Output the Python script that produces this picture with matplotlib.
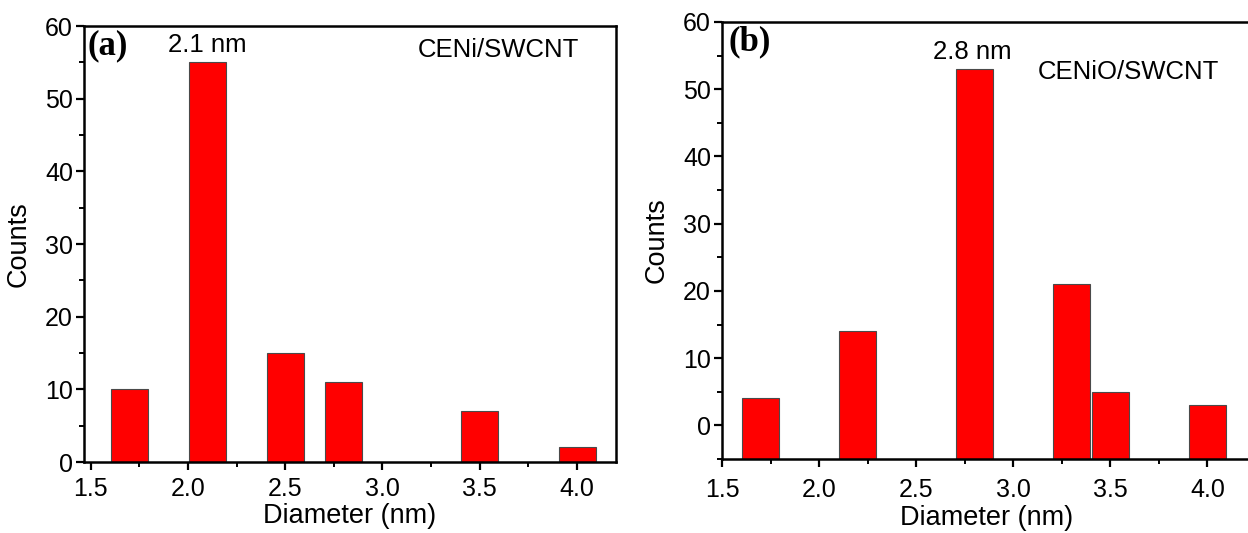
import matplotlib
matplotlib.use("Agg")
import matplotlib.pyplot as plt
from matplotlib.ticker import MultipleLocator

plt.rcParams['font.family'] = ['Liberation Sans', 'DejaVu Sans']

# Data
diam_a = [1.7, 2.1, 2.5, 2.8, 3.5, 4.0]
counts_a = [10, 55, 15, 11, 7, 2]
diam_b = [1.7, 2.2, 2.8, 3.3, 3.5, 4.0]
counts_b = [4, 14, 53, 21, 5, 3]
xticks = [1.5, 2.0, 2.5, 3.0, 3.5, 4.0]
peak_a = "2.1 nm"
peak_b = "2.8 nm"
name_a = "CENi/SWCNT"
name_b = "CENiO/SWCNT"

W, H = 1248, 533
fig = plt.figure(figsize=(W / 100, H / 100), dpi=100)

def frac(l, t, r, b):
    return [l / W, 1 - b / H, (r - l) / W, (b - t) / H]

ax1 = fig.add_axes(frac(84, 26, 616, 462))
ax2 = fig.add_axes(frac(722, 22, 1252, 459))

bar_kw = dict(width=0.19, color='#ff0000', edgecolor='#4a4a4a', linewidth=0.8, align='center')

ax1.bar(diam_a, counts_a, bottom=0, **bar_kw)
ax1.set_xlim(1.466, 4.2)
ax1.set_ylim(0, 60)

ymin_b = -5
ax2.bar(diam_b, [c - ymin_b for c in counts_b], bottom=ymin_b, **bar_kw)
ax2.set_xlim(1.505, 4.23)
ax2.set_ylim(ymin_b, 60)

for ax in (ax1, ax2):
    ax.set_xticks(xticks)
    ax.set_xticklabels([f"{v:.1f}" for v in xticks])
    ax.xaxis.set_minor_locator(MultipleLocator(0.25))
    ax.yaxis.set_major_locator(MultipleLocator(10))
    ax.yaxis.set_minor_locator(MultipleLocator(5))
    ax.tick_params(which='major', direction='out', length=6, width=1.6, labelsize=18, pad=2,
                   top=False, right=False)
    ax.tick_params(which='minor', direction='out', length=3.5, width=1.4, top=False, right=False)
    for s in ax.spines.values():
        s.set_linewidth(1.8)
    ax.set_ylabel("Counts", fontsize=19.5)
    ax.set_xlabel("Diameter (nm)", fontsize=19.5)
    ax.xaxis.label.set_va('center')
    ax.yaxis.label.set_va('center')

ax1.tick_params(axis='x', which='major', pad=5)
ax2.tick_params(axis='x', which='major', pad=8)

ax1.xaxis.set_label_coords(0.5, -0.124)
ax2.xaxis.set_label_coords(0.5, -0.135)
ax1.yaxis.set_label_coords(-0.122, 0.5)
ax2.yaxis.set_label_coords(-0.123, 0.5)

serif = ['Liberation Serif', 'DejaVu Serif']
ax1.text(1.486, 59.5, "(a)", family=serif, fontweight='bold', fontsize=25, ha='left', va='top')
ax2.text(1.533, 59.5, "(b)", family=serif, fontweight='bold', fontsize=25, ha='left', va='top')

ax1.text(2.1, 57.4, peak_a, fontsize=18.5, ha='center', va='center')
ax1.text(3.595, 56.7, name_a, fontsize=18.5, ha='center', va='center')
ax2.text(2.79, 55.5, peak_b, fontsize=18.5, ha='center', va='center')
ax2.text(3.593, 52.5, name_b, fontsize=18.5, ha='center', va='center')

fig.savefig("out.png", dpi=100)
